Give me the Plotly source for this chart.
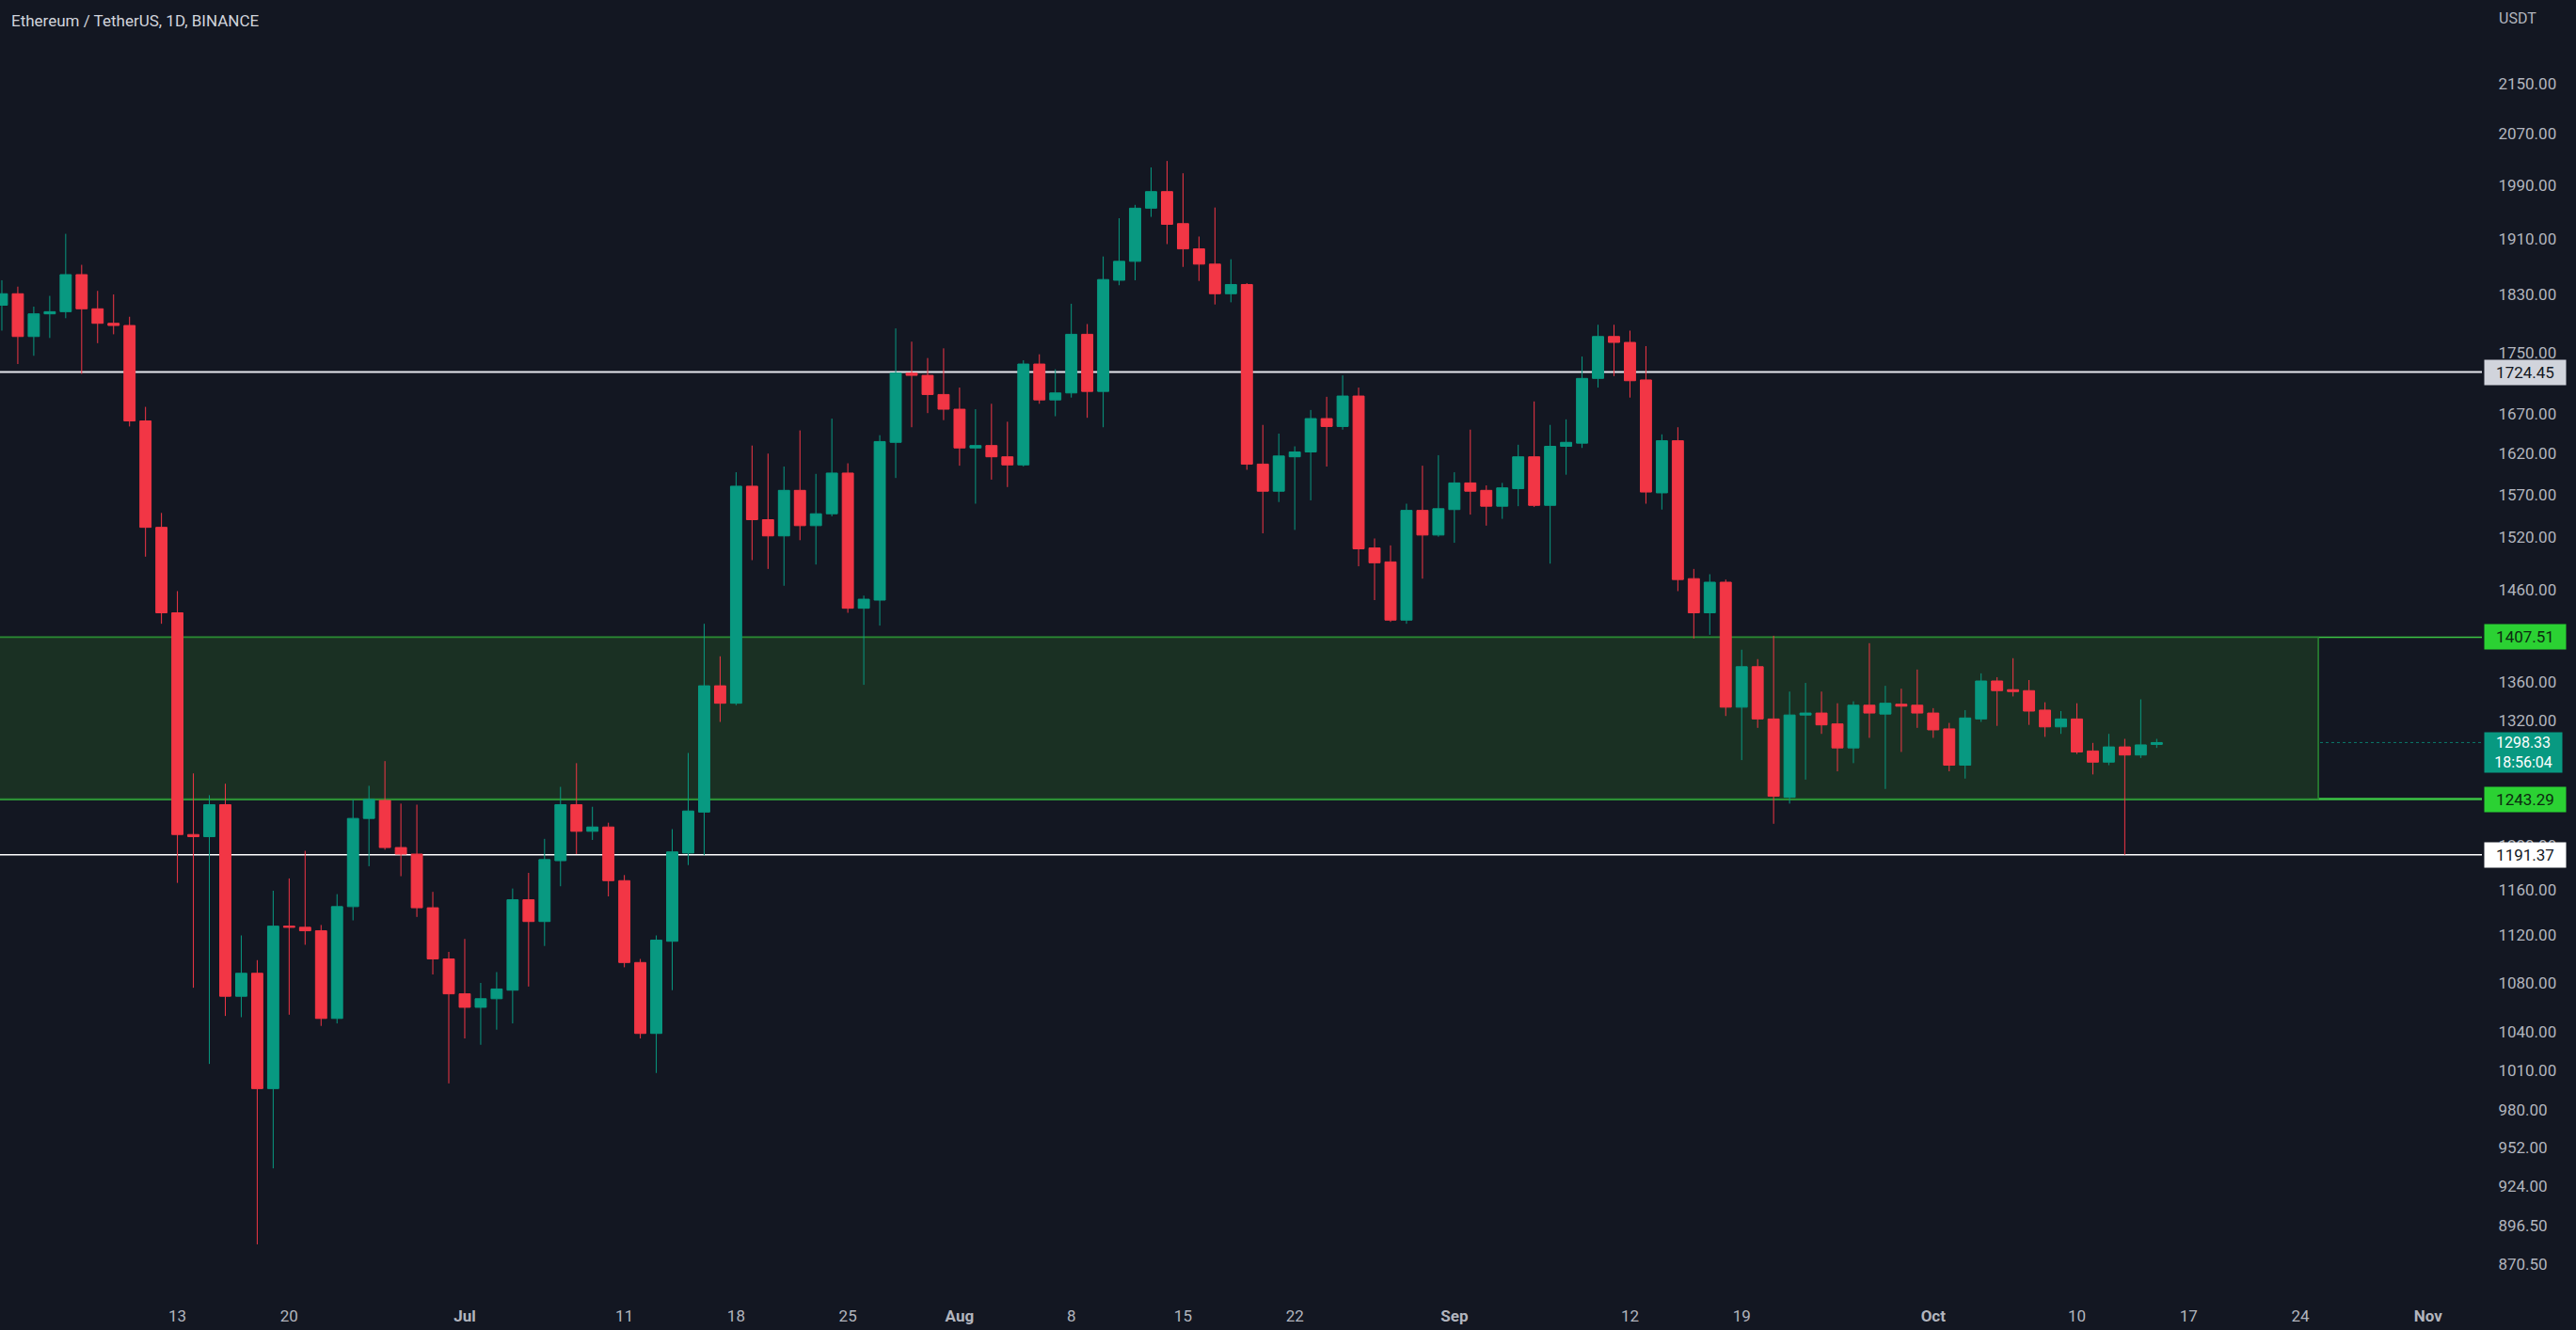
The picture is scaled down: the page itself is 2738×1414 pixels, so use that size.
import math
import pandas as pd
import plotly.graph_objects as go

# ---------------- data (ETH/USDT daily, 2022-06-02 .. 2022-10-15) ----------------
dates = pd.date_range("2022-06-02", "2022-10-15", freq="D")

open_ = [
    # Jun 2-30
    1815, 1831, 1772, 1803, 1806, 1858, 1810, 1790, 1787, 1661, 1531, 1434, 1210, 1208, 1238,
    1069, 1088, 996, 1128, 1127, 1124, 1051, 1145, 1225, 1242, 1198, 1192, 1144, 1100,
    # Jul
    1071, 1060, 1067, 1074, 1151, 1132, 1186, 1238, 1213, 1217, 1168, 1097, 1039, 1115, 1193,
    1231, 1356, 1338, 1580, 1540, 1521, 1575, 1533, 1547, 1596, 1439, 1448, 1634, 1723, 1720, 1695,
    # Aug
    1676, 1627, 1630, 1616, 1606, 1735, 1688, 1697, 1775, 1699, 1850, 1877, 1955, 1980, 1932,
    1895, 1873, 1831, 1844, 1607, 1574, 1616, 1622, 1664, 1654, 1693, 1507, 1491, 1426, 1551, 1522,
    # Sep
    1552, 1584, 1575, 1556, 1577, 1616, 1557, 1629, 1633, 1716, 1772, 1764, 1714, 1572, 1636,
    1472, 1434, 1468, 1334, 1376, 1322, 1245, 1326, 1328, 1317, 1293, 1336, 1327, 1337, 1336,
    # Oct 1-15
    1328, 1312, 1276, 1322, 1361, 1352, 1351, 1331, 1314, 1322, 1290, 1279, 1294, 1286, 1296.5,
]
high = [
    1850, 1841, 1813, 1828, 1917, 1872, 1835, 1830, 1799, 1679, 1548, 1458, 1268, 1247, 1258,
    1120, 1099, 1159, 1170, 1195, 1129, 1156, 1243, 1256, 1280, 1239, 1238, 1158, 1106,
    1117, 1080, 1089, 1161, 1175, 1206, 1255, 1278, 1236, 1221, 1173, 1100, 1120, 1215, 1288,
    1422, 1387, 1597, 1630, 1620, 1604, 1649, 1595, 1664, 1608, 1453, 1643, 1783, 1765, 1743, 1756,
    1704, 1676, 1683, 1660, 1740, 1748, 1728, 1817, 1789, 1884, 1940, 1960, 2017, 2027, 2008,
    1913, 1956, 1880, 1846, 1656, 1645, 1629, 1675, 1692, 1720, 1704, 1518, 1510, 1559, 1605, 1618,
    1597, 1650, 1581, 1584, 1631, 1686, 1656, 1663, 1745, 1788, 1788, 1780, 1759, 1644, 1653,
    1483, 1477, 1471, 1394, 1384, 1409, 1350, 1359, 1350, 1338, 1340, 1401, 1356, 1353, 1373,
    1333, 1318, 1331, 1369, 1365, 1385, 1362, 1339, 1330, 1338, 1298, 1307, 1302, 1342, 1302,
]
low = [
    1780, 1735, 1746, 1770, 1797, 1722, 1763, 1775, 1654, 1497, 1422, 1166, 1076, 1015, 1053,
    1052, 884, 937, 1054, 1112, 1045, 1047, 1133, 1181, 1196, 1172, 1136, 1087, 1000,
    1035, 1030, 1042, 1047, 1077, 1111, 1163, 1192, 1205, 1154, 1093, 1035, 1008, 1074, 1182,
    1191, 1319, 1336, 1493, 1483, 1464, 1516, 1488, 1544, 1434, 1357, 1420, 1590, 1653, 1671, 1662,
    1605, 1559, 1588, 1579, 1604, 1683, 1667, 1691, 1665, 1653, 1843, 1850, 1942, 1902, 1869,
    1849, 1816, 1819, 1600, 1524, 1561, 1528, 1563, 1604, 1650, 1486, 1448, 1424, 1422, 1472, 1520,
    1513, 1546, 1533, 1541, 1556, 1555, 1489, 1594, 1627, 1704, 1719, 1691, 1559, 1552, 1458,
    1406, 1410, 1325, 1281, 1313, 1220, 1239, 1262, 1307, 1270, 1278, 1303, 1253, 1289, 1313,
    1303, 1270, 1263, 1319, 1315, 1345, 1316, 1304, 1307, 1287, 1267, 1276, 1191.37, 1283, 1293,
]
close = [
    1831, 1772, 1803, 1806, 1858, 1810, 1790, 1787, 1661, 1531, 1434, 1210, 1208, 1238, 1069,
    1088, 996, 1128, 1127, 1124, 1051, 1145, 1225, 1243, 1198, 1192, 1144, 1100, 1071,
    1060, 1067, 1075, 1151, 1132, 1187, 1238, 1213, 1217, 1168, 1097, 1039, 1116, 1194, 1232,
    1356, 1338, 1580, 1540, 1521, 1575, 1533, 1547, 1596, 1439, 1449, 1635, 1723, 1720, 1695, 1676,
    1627, 1630, 1616, 1606, 1735, 1688, 1697, 1775, 1699, 1851, 1877, 1955, 1980, 1931, 1895,
    1873, 1831, 1844, 1607, 1574, 1617, 1622, 1664, 1654, 1693, 1506, 1490, 1426, 1551, 1522, 1553,
    1584, 1574, 1556, 1578, 1616, 1557, 1629, 1634, 1716, 1772, 1764, 1713, 1573, 1636, 1471,
    1434, 1468, 1334, 1376, 1322, 1246, 1326, 1328, 1316, 1293, 1336, 1328, 1338, 1335, 1328,
    1311, 1276, 1323, 1361, 1351, 1350, 1330, 1314, 1322, 1289, 1279, 1294, 1286, 1296, 1298.33,
]

# horizontal levels
resistance = 1724.45
zone_top = 1407.51
zone_bottom = 1243.29
support = 1191.37
last_price = 1298.33
countdown = "18:56:04"
zone_end = "2022-10-25 03:00"

# axis ticks
price_ticks = [870.5, 896.5, 924, 952, 980, 1010, 1040, 1080, 1120, 1160, 1200,
               1320, 1360, 1410, 1460, 1520, 1570, 1620, 1670, 1750, 1830, 1910,
               1990, 2070, 2150]
date_ticks = ["2022-06-13", "2022-06-20", "2022-07-01", "2022-07-11", "2022-07-18",
              "2022-07-25", "2022-08-01", "2022-08-08", "2022-08-15", "2022-08-22",
              "2022-09-01", "2022-09-12", "2022-09-19", "2022-10-01", "2022-10-10",
              "2022-10-17", "2022-10-24", "2022-11-01"]
date_labels = ["13", "20", "<b>Jul</b>", "11", "18", "25", "<b>Aug</b>", "8", "15", "22",
               "<b>Sep</b>", "12", "19", "<b>Oct</b>", "10", "17", "24", "<b>Nov</b>"]

title_text = "Ethereum / TetherUS, 1D, BINANCE"
currency = "USDT"

# ---------------- style ----------------
BG = "#131722"
GREEN = "#089981"
RED = "#F23645"
AXIS_TXT = "#b2b5be"
FONT = "Roboto, 'Liberation Sans', sans-serif"
W, H = 2738, 1414
PLOT_R = 100
PLOT_B = 42
plot_w = W - PLOT_R

fig = go.Figure()
fig.add_trace(go.Candlestick(
    x=dates, open=open_, high=high, low=low, close=close,
    increasing=dict(line=dict(color=GREEN, width=1), fillcolor=GREEN),
    decreasing=dict(line=dict(color=RED, width=1), fillcolor=RED),
    whiskerwidth=0, hoverinfo="skip", showlegend=False,
))

shapes = [
    # green zone
    dict(type="rect", xref="x", yref="y", x0="2022-05-15", x1=zone_end,
         y0=zone_bottom, y1=zone_top, fillcolor="#1a3023",
         line=dict(color="#2a8a33", width=1.5), layer="below"),
    # zone edges extended
    dict(type="line", xref="paper", yref="y", x0=0, x1=1, y0=zone_top, y1=zone_top,
         line=dict(color="#3cc545", width=1.5), layer="below"),
    dict(type="line", xref="paper", yref="y", x0=0, x1=1, y0=zone_bottom, y1=zone_bottom,
         line=dict(color="#3cc545", width=2.5), layer="below"),
    # white levels
    dict(type="line", xref="paper", yref="y", x0=0, x1=1, y0=resistance, y1=resistance,
         line=dict(color="#e6e8ee", width=2), layer="below"),
    dict(type="line", xref="paper", yref="y", x0=0, x1=1, y0=support, y1=support,
         line=dict(color="#ffffff", width=1.6), layer="below"),
    # last price dotted line
    dict(type="line", xref="paper", yref="y", x0=0, x1=1, y0=last_price, y1=last_price,
         line=dict(color="rgba(8,153,129,0.75)", width=1, dash="dot"), layer="below"),
]

label_x = (plot_w + 2) / plot_w


def price_label(value, bg, fg, text=None, size=17, pad=3, yanchor="middle", yshift=0):
    return dict(
        xref="paper", yref="y", x=label_x, y=math.log10(value),
        xanchor="left", yanchor=yanchor, yshift=yshift, showarrow=False,
        text=text if text is not None else f"{value:.2f}",
        font=dict(family=FONT, size=size, color=fg),
        bgcolor=bg, borderpad=pad, width=80, align="center",
    )


plot_h = H - PLOT_B
annotations = [
    dict(xref="paper", yref="paper", x=10 / plot_w, y=1 - 22 / plot_h,
         xanchor="left", yanchor="middle", showarrow=False, text=title_text,
         font=dict(family=FONT, size=17, color="#d1d4dc")),
    dict(xref="paper", yref="paper", x=(plot_w + 16) / plot_w, y=1 - 19 / plot_h,
         xanchor="left", yanchor="middle", showarrow=False, text=currency,
         font=dict(family=FONT, size=16, color=AXIS_TXT)),
    price_label(resistance, "#d1d4dc", "#131722"),
    price_label(zone_top, "#2bd133", "#0c2a10"),
    price_label(last_price, GREEN, "#ffffff", f"{last_price:.2f}<br>{countdown}",
                size=16, pad=1, yanchor="top", yshift=11),
    price_label(zone_bottom, "#2bd133", "#0c2a10"),
    price_label(support, "#ffffff", "#131722"),
]

y_lo, y_hi = 853.3, 2293.0

fig.update_layout(
    width=W, height=H,
    paper_bgcolor=BG, plot_bgcolor=BG,
    margin=dict(l=0, r=PLOT_R, t=0, b=PLOT_B),
    showlegend=False, hovermode=False,
    boxgap=0.3, boxgroupgap=0,
    font=dict(family=FONT, color=AXIS_TXT),
    shapes=shapes, annotations=annotations,
    xaxis=dict(
        type="date", range=["2022-06-01 21:13", "2022-11-04 09:00"],
        rangeslider=dict(visible=False), showgrid=False, zeroline=False,
        showline=False, tickmode="array", tickvals=date_ticks, ticktext=date_labels,
        ticks="outside", ticklen=12, tickcolor="rgba(0,0,0,0)",
        tickfont=dict(family=FONT, size=17, color=AXIS_TXT),
    ),
    yaxis=dict(
        type="log", side="right", range=[math.log10(y_lo), math.log10(y_hi)],
        showgrid=False, zeroline=False, showline=False,
        tickmode="array", tickvals=price_ticks,
        ticktext=[f"{v:.2f}" for v in price_ticks],
        ticks="outside", ticklen=13, tickcolor="rgba(0,0,0,0)",
        tickfont=dict(family=FONT, size=17, color=AXIS_TXT),
    ),
)

fig.write_html("out.html", config={"displayModeBar": False})
